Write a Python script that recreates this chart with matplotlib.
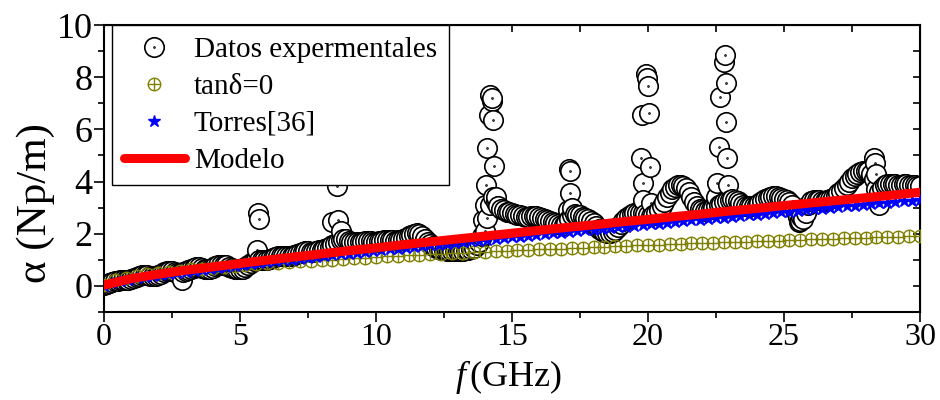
import numpy as np
import matplotlib
matplotlib.use("Agg")
import matplotlib.pyplot as plt
from matplotlib.path import Path
from matplotlib.ticker import MultipleLocator

plt.rcParams['font.family'] = ['Liberation Serif', 'DejaVu Serif']
plt.rcParams['mathtext.fontset'] = 'custom'
plt.rcParams['mathtext.rm'] = 'Liberation Serif'
plt.rcParams['mathtext.it'] = 'Liberation Serif:italic'

# measured data, dense part (one row per GHz, 0.1 GHz step)
exp_base = [
    0.05, 0.08, 0.12, 0.15, 0.18, 0.20, 0.22, 0.22, 0.21, 0.22,
    0.25, 0.29, 0.33, 0.37, 0.40, 0.41, 0.40, 0.38, 0.37, 0.38,
    0.42, 0.47, 0.52, 0.56, 0.58, 0.57, 0.54, 0.51, 0.50, 0.52,
    0.56, 0.61, 0.66, 0.70, 0.72, 0.71, 0.68, 0.65, 0.64, 0.66,
    0.70, 0.75, 0.79, 0.82, 0.82, 0.79, 0.74, 0.69, 0.66, 0.64,
    0.64, 0.66, 0.72, 0.80, 0.88, 0.94, 0.98, 1.00, 1.00, 1.00,
    1.00, 1.02, 1.06, 1.10, 1.13, 1.15, 1.15, 1.14, 1.14, 1.16,
    1.19, 1.23, 1.27, 1.30, 1.32, 1.32, 1.31, 1.31, 1.33, 1.36,
    1.39, 1.42, 1.45, 1.50, 1.55, 1.62, 1.70, 1.75, 1.78, 1.78,
    1.74, 1.70, 1.68, 1.67, 1.68, 1.70, 1.72, 1.72, 1.71, 1.70,
    1.70, 1.71, 1.73, 1.75, 1.76, 1.76, 1.75, 1.74, 1.75, 1.77,
    1.80, 1.85, 1.90, 1.96, 2.00, 2.02, 1.98, 1.90, 1.80, 1.70,
    1.60, 1.52, 1.46, 1.41, 1.38, 1.36, 1.34, 1.33, 1.32, 1.32,
    1.32, 1.33, 1.34, 1.36, 1.38, 1.40, 1.45, 1.55, 1.70, 1.90,
    2.10, 2.60, 3.10, 3.40, 3.20, 3.05, 2.95, 2.90, 2.85, 2.82,
    2.80, 2.76, 2.72, 2.70, 2.68, 2.66, 2.66, 2.67, 2.68, 2.67,
    2.64, 2.60, 2.56, 2.52, 2.48, 2.44, 2.40, 2.37, 2.35, 2.35,
    2.40, 2.55, 2.70, 2.75, 2.73, 2.70, 2.66, 2.62, 2.57, 2.50,
    2.40, 2.28, 2.18, 2.10, 2.05, 2.03, 2.04, 2.08, 2.15, 2.25,
    2.38, 2.50, 2.60, 2.68, 2.74, 2.78, 2.80, 2.80, 2.78, 2.75,
    2.70, 2.68, 2.70, 2.78, 2.90, 3.05, 3.22, 3.40, 3.56, 3.70,
    3.80, 3.86, 3.88, 3.84, 3.75, 3.60, 3.42, 3.22, 3.05, 2.95,
    2.90, 2.88, 2.90, 2.95, 3.00, 3.05, 3.10, 3.15, 3.20, 3.25,
    3.30, 3.32, 3.30, 3.25, 3.18, 3.12, 3.08, 3.06, 3.06, 3.08,
    3.12, 3.18, 3.25, 3.32, 3.38, 3.42, 3.44, 3.44, 3.42, 3.38,
    3.35, 3.30, 3.22, 3.10, 2.90, 2.65, 2.50, 2.55, 2.80, 3.10,
    3.25, 3.30, 3.30, 3.28, 3.26, 3.26, 3.28, 3.32, 3.38, 3.45,
    3.55, 3.65, 3.76, 3.88, 4.00, 4.12, 4.22, 4.30, 4.36, 4.40,
    4.42, 4.40, 4.30, 4.10, 3.70, 3.60, 3.75, 3.85, 3.90, 3.92,
    3.92, 3.90, 3.88, 3.88, 3.90, 3.90, 3.88, 3.86, 3.85, 3.84,
    3.82,
]
exp_base_f = np.round(np.arange(len(exp_base)) * 0.1, 2)

# measured data, isolated resonance points
peak_f = [2.87, 5.62, 5.66, 5.70, 8.40, 8.55, 8.62, 8.70,
          13.95, 14.00, 14.05, 14.10, 14.15, 14.20, 14.25, 14.28, 14.30, 14.35, 14.40,
          17.05, 17.10, 17.12, 17.15, 17.20,
          19.75, 19.78, 19.80, 19.82, 19.93, 19.96, 20.00, 20.02, 20.07, 20.10,
          22.50, 22.55, 22.62, 22.65, 22.80, 22.83, 22.86, 22.88, 22.90, 22.93,
          25.55, 25.62, 28.30, 28.35, 28.40, 28.45, 28.50]
peak_a = [0.23, 1.38, 2.80, 2.55, 2.45, 3.83, 2.53, 2.10,
          2.53, 3.10, 3.87, 5.30, 6.55, 7.30, 7.10, 7.20, 6.36, 4.60, 3.40,
          2.90, 4.48, 4.40, 3.56, 3.00,
          4.90, 6.55, 3.95, 3.30, 8.12, 7.95, 7.66, 6.63, 4.56, 3.18,
          3.41, 3.95, 5.33, 7.24, 8.60, 8.85, 7.78, 6.28, 4.90, 3.87,
          2.45, 2.65, 4.90, 4.70, 4.30, 3.20, 3.10]

# tan(delta)=0, every 0.4 GHz
tan_a = [0.02, 0.22, 0.31, 0.38, 0.44, 0.50, 0.54, 0.59, 0.63, 0.66,
         0.70, 0.73, 0.77, 0.80, 0.83, 0.86, 0.89, 0.91, 0.94, 0.97,
         0.99, 1.01, 1.04, 1.06, 1.08, 1.11, 1.13, 1.15, 1.17, 1.19,
         1.21, 1.23, 1.25, 1.27, 1.29, 1.31, 1.33, 1.35, 1.36, 1.38,
         1.40, 1.42, 1.43, 1.45, 1.47, 1.49, 1.50, 1.52, 1.53, 1.55,
         1.57, 1.58, 1.60, 1.61, 1.63, 1.64, 1.66, 1.67, 1.69, 1.70,
         1.71, 1.73, 1.74, 1.76, 1.77, 1.78, 1.80, 1.81, 1.83, 1.84,
         1.85, 1.87, 1.88, 1.89, 1.90, 1.92]
tan_f = np.round(np.arange(len(tan_a)) * 0.4, 2)

# Torres[36], every 0.3 GHz
torres_a = [0.00, 0.12, 0.19, 0.24, 0.29, 0.34, 0.38, 0.43, 0.47, 0.51,
            0.55, 0.59, 0.62, 0.66, 0.70, 0.73, 0.77, 0.80, 0.84, 0.87,
            0.91, 0.94, 0.98, 1.01, 1.04, 1.08, 1.11, 1.14, 1.17, 1.21,
            1.24, 1.27, 1.30, 1.33, 1.37, 1.40, 1.43, 1.46, 1.49, 1.52,
            1.55, 1.58, 1.62, 1.65, 1.68, 1.71, 1.74, 1.77, 1.80, 1.83,
            1.86, 1.89, 1.92, 1.95, 1.98, 2.01, 2.04, 2.07, 2.10, 2.13,
            2.16, 2.18, 2.21, 2.24, 2.27, 2.30, 2.33, 2.36, 2.39, 2.42,
            2.45, 2.48, 2.51, 2.53, 2.56, 2.59, 2.62, 2.65, 2.68, 2.71,
            2.73, 2.76, 2.79, 2.82, 2.85, 2.88, 2.90, 2.93, 2.96, 2.99,
            3.02, 3.05, 3.07, 3.10, 3.13, 3.16, 3.19, 3.21, 3.24, 3.27,
            3.30]
torres_f = np.round(np.arange(len(torres_a)) * 0.3, 2)

# model, every 1 GHz
model_a = [0.03, 0.28, 0.45, 0.60, 0.73, 0.86, 0.99, 1.11, 1.23, 1.35,
           1.46, 1.58, 1.69, 1.80, 1.91, 2.02, 2.13, 2.24, 2.34, 2.45,
           2.55, 2.66, 2.76, 2.87, 2.97, 3.08, 3.18, 3.28, 3.38, 3.48,
           3.59]
model_f = np.arange(len(model_a))

exp_f = np.concatenate([exp_base_f, peak_f])
exp_a = np.concatenate([exp_base, peak_a])
order = np.argsort(exp_f, kind='stable')
exp_f = exp_f[order]
exp_a = exp_a[order]

# circle with a dot in the middle, and circle with a cross
ring_dot = Path.make_compound_path(Path.unit_circle(), Path.circle((0, 0), 0.05))
cross = Path([(-1, 0), (1, 0), (0, -1), (0, 1)],
             [Path.MOVETO, Path.LINETO, Path.MOVETO, Path.LINETO])
oplus = Path.make_compound_path(Path.unit_circle(), cross)

fig = plt.figure(figsize=(9.4, 4.0), dpi=100)
ax = fig.add_axes([0.1106, 0.22, 0.8681, 0.7175])

ax.plot(exp_f, exp_a, ls='none', marker=ring_dot, ms=14, mfc='white',
        mec='black', mew=1.2, label='Datos expermentales', zorder=2)
ax.plot(tan_f, tan_a, ls='none', marker=oplus, ms=9, mfc='none',
        mec='#808000', mew=1.0, label='tanδ=0', zorder=3)
ax.plot(torres_f, torres_a, ls='none', marker='*', ms=9, color='blue',
        mec='blue', label='Torres[36]', zorder=4)
ax.plot(model_f, model_a, color='red', lw=6.5, solid_capstyle='round',
        label='Modelo', zorder=5)

ax.set_xlim(0, 30)
ax.set_ylim(-1, 10)
ax.xaxis.set_major_locator(MultipleLocator(5))
ax.xaxis.set_minor_locator(MultipleLocator(2.5))
ax.yaxis.set_major_locator(MultipleLocator(2))
ax.yaxis.set_minor_locator(MultipleLocator(1))
ax.tick_params(which='both', direction='out', width=1.2)
ax.tick_params(axis='y', labelsize=26)
ax.tick_params(axis='x', labelsize=23)
ax.tick_params(which='major', length=7, pad=1)
ax.tick_params(which='minor', length=4)
for s in ax.spines.values():
    s.set_linewidth(1.5)

top = ax.secondary_xaxis('top')
top.xaxis.set_major_locator(MultipleLocator(2.5))
top.tick_params(direction='in', length=5, width=1.2, labeltop=False)
right = ax.secondary_yaxis('right')
right.yaxis.set_major_locator(MultipleLocator(1))
right.tick_params(direction='in', length=5, width=1.2, labelright=False)

ax.set_xlabel(r'$f\,$(GHz)', fontsize=26)
ax.xaxis.set_label_coords(0.496, -0.16)
ax.set_ylabel('α (Np/m)', fontsize=31)
ax.yaxis.set_label_coords(-0.06, 0.38)

leg = ax.legend(loc='upper left', bbox_to_anchor=(0.01, 1.0), borderaxespad=0,
                fancybox=False, edgecolor='black', framealpha=1, fontsize=21,
                handlelength=2.1, handletextpad=0.3, labelspacing=0.36,
                borderpad=0.4)
leg.get_frame().set_linewidth(1.0)

fig.savefig('out.png', dpi=100)
